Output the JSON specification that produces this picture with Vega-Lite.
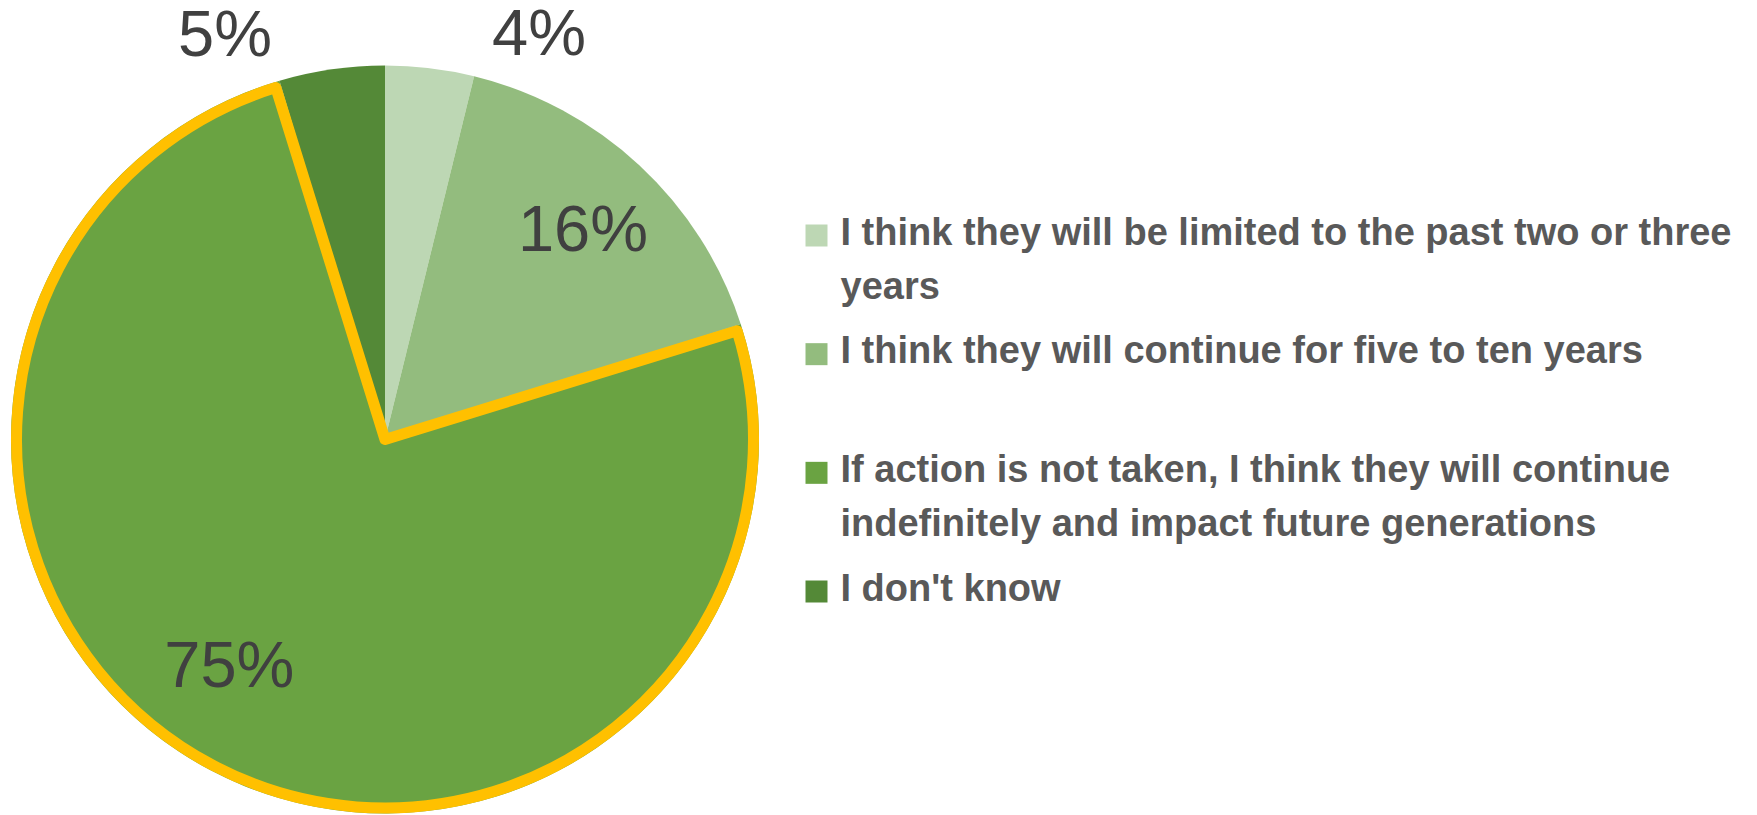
{
  "$schema": "https://vega.github.io/schema/vega-lite/v6.json",
  "padding": {"left": 11, "top": 1.5, "right": 0, "bottom": 0},
  "background": "white",
  "config": {"view": {"stroke": null}, "concat": {"spacing": 40.5}},
  "data": {
    "values": [
      {"idx": 1, "answer": "I think they will be limited to the past two or three\nyears", "share": 0.0383},
      {"idx": 2, "answer": "I think they will continue for five to ten years", "share": 0.1617},
      {"idx": 3, "answer": "If action is not taken, I think they will continue\nindefinitely and impact future generations", "share": 0.7545},
      {"idx": 4, "answer": "I don't know", "share": 0.0455}
    ]
  },
  "hconcat": [
    {
      "width": 748,
      "height": 748,
      "encoding": {
        "theta": {"field": "share", "type": "quantitative", "stack": true},
        "order": {"field": "idx", "type": "quantitative"}
      },
      "layer": [
        {
          "mark": {"type": "arc", "outerRadius": 374},
          "encoding": {
            "color": {"field": "answer", "type": "nominal", "sort": {"field": "idx", "op": "min"}, "scale": {"range": ["#BDD7B4", "#93BC7E", "#6AA342", "#548937"]}, "legend": null}
          }
        },
        {
          "mark": {"type": "arc", "outerRadius": 368.5, "padAngle": 0.0298, "fill": "transparent", "stroke": "#FFC000", "strokeJoin": "round"},
          "encoding": {
            "strokeWidth": {"condition": {"test": "datum.idx === 3", "value": 11}, "value": 0}
          }
        },
        {
          "mark": {"type": "text", "radius": 285, "dx": 4, "font": "Liberation Sans Narrow, Liberation Sans", "fontSize": 65, "color": "#404040", "align": "center", "baseline": "middle"},
          "encoding": {"text": {"condition": {"test": "datum.idx === 2", "field": "share", "type": "quantitative", "format": ".0%"}, "value": ""}}
        },
        {
          "mark": {"type": "text", "radius": 280, "dx": -25, "dy": -20, "font": "Liberation Sans Narrow, Liberation Sans", "fontSize": 65, "color": "#404040", "align": "center", "baseline": "middle"},
          "encoding": {"text": {"condition": {"test": "datum.idx === 3", "field": "share", "type": "quantitative", "format": ".0%"}, "value": ""}}
        },
        {
          "mark": {"type": "text", "radius": 400, "dx": 106, "dy": -7, "font": "Liberation Sans Narrow, Liberation Sans", "fontSize": 65, "color": "#404040", "align": "center", "baseline": "middle"},
          "encoding": {"text": {"condition": {"test": "datum.idx === 1", "field": "share", "type": "quantitative", "format": ".0%"}, "value": ""}}
        },
        {
          "mark": {"type": "text", "radius": 400, "dx": -103, "dy": -8, "font": "Liberation Sans Narrow, Liberation Sans", "fontSize": 65, "color": "#404040", "align": "center", "baseline": "middle"},
          "encoding": {"text": {"condition": {"test": "datum.idx === 4", "field": "share", "type": "quantitative", "format": ".0%"}, "value": ""}}
        }
      ]
    },
    {
      "width": 940,
      "height": 748,
      "encoding": {
        "y": {"field": "answer", "type": "nominal", "sort": {"field": "idx", "op": "min"}, "scale": {"type": "point", "range": [170, 526], "padding": 0}, "axis": null}
      },
      "layer": [
        {
          "mark": {"type": "square", "size": 484, "filled": true, "opacity": 1},
          "encoding": {
            "x": {"value": 12},
            "color": {"field": "answer", "type": "nominal", "sort": {"field": "idx", "op": "min"}, "scale": {"range": ["#BDD7B4", "#93BC7E", "#6AA342", "#548937"]}, "legend": null}
          }
        },
        {
          "mark": {"type": "text", "align": "left", "baseline": "top", "dy": -21, "lineBreak": "\n", "lineHeight": 54, "font": "Liberation Sans Narrow, Liberation Sans", "fontWeight": "bold", "fontSize": 38, "color": "#595959"},
          "encoding": {
            "x": {"value": 36},
            "text": {"field": "answer", "type": "nominal"}
          }
        }
      ]
    }
  ]
}
